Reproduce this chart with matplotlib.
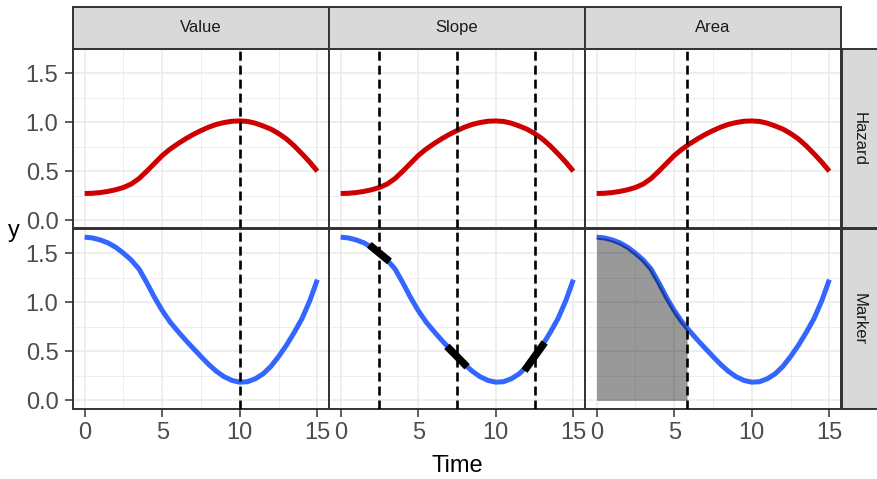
import matplotlib
matplotlib.use("Agg")
import matplotlib.pyplot as plt
import numpy as np

plt.rcParams['font.family'] = ['Liberation Sans', 'DejaVu Sans']

# ---- data ----
time = [0, 0.5, 1, 1.5, 2, 2.5, 3, 3.5, 4, 4.5, 5, 5.5, 6, 6.5, 7, 7.5, 8, 8.5,
        9, 9.5, 10, 10.5, 11, 11.5, 12, 12.5, 13, 13.5, 14, 14.5, 15]
hazard = [0.274, 0.276, 0.283, 0.295, 0.312, 0.335, 0.37, 0.425, 0.50, 0.58,
          0.66, 0.725, 0.78, 0.83, 0.875, 0.915, 0.95, 0.978, 0.997, 1.01,
          1.013, 1.008, 0.99, 0.962, 0.93, 0.885, 0.83, 0.76, 0.68, 0.595, 0.5]
marker = [1.663, 1.655, 1.635, 1.605, 1.56, 1.50, 1.43, 1.34, 1.20, 1.05,
          0.915, 0.80, 0.705, 0.615, 0.53, 0.446, 0.365, 0.295, 0.24, 0.203,
          0.185, 0.19, 0.22, 0.27, 0.345, 0.446, 0.56, 0.69, 0.83, 1.01, 1.23]

columns = ["Value", "Slope", "Area"]
rows = ["Hazard", "Marker"]

value_time = [10]
slope_times = [2.5, 7.5, 12.5]
slope_values = [1.50, 0.446, 0.446]
slopes = [-0.13, -0.16, 0.22]
slope_half_width = 0.65
area_time = [0, 0.5, 1, 1.5, 2, 2.5, 3, 3.5, 4, 4.5, 5, 5.5, 5.83]
area_marker = [1.663, 1.655, 1.635, 1.605, 1.56, 1.50, 1.43, 1.34, 1.20, 1.05,
               0.915, 0.80, 0.735]
area_cut = [5.83]

x_ticks = [0, 5, 10, 15]
y_ticks = [0.0, 0.5, 1.0, 1.5]
y_tick_labels = ["0.0", "0.5", "1.0", "1.5"]

# ---- layout ----
W, H = 877, 479
fig = plt.figure(figsize=(W / 100, H / 100), dpi=100)
fig.patch.set_facecolor("white")

left_px = 73
col_w = 256
row_tops = [49, 229]
row_h = 179.5
strip_top = 6.5
strip_right_w = 40

GRID = "#EBEBEB"
BORDER = "#333333"
STRIP_FILL = "#D9D9D9"
RED = "#CC0000"
BLUE = "#3366FF"

def px_rect(x0, y0, w, h):
    return [x0 / W, 1 - (y0 + h) / H, w / W, h / H]

dash_kw = dict(color="black", lw=1.9, dashes=(3.4, 1.9), zorder=5)

for r, row_name in enumerate(rows):
    for c, col_name in enumerate(columns):
        ax = fig.add_axes(px_rect(left_px + c * col_w, row_tops[r], col_w, row_h))
        ax.set_xlim(-0.75, 15.75)
        ax.set_ylim(-0.083, 1.746)
        ax.set_xticks(x_ticks)
        ax.set_xticks([2.5, 7.5, 12.5], minor=True)
        ax.set_yticks(y_ticks)
        ax.set_yticks([0.25, 0.75, 1.25], minor=True)
        ax.grid(True, which="major", color=GRID, lw=1.2, zorder=0)
        ax.grid(True, which="minor", color=GRID, lw=0.6, zorder=0)
        ax.set_axisbelow(True)
        for s in ax.spines.values():
            s.set_color(BORDER)
            s.set_linewidth(1.4)
        ax.tick_params(which="minor", length=0)
        ax.tick_params(which="major", length=5.5, width=1.1, color=BORDER,
                       labelsize=17, labelcolor="#4D4D4D")
        ax.tick_params(axis="y", pad=5)
        ax.tick_params(axis="x", pad=4)
        if r == 1:
            ax.set_xticklabels([str(t) for t in x_ticks])
        else:
            ax.tick_params(axis="x", length=0, labelbottom=False)
        if c == 0:
            ax.set_yticklabels(y_tick_labels)
        else:
            ax.tick_params(axis="y", length=0, labelleft=False)

        y = hazard if r == 0 else marker
        color = RED if r == 0 else BLUE
        ax.plot(time, y, color=color, lw=3.6, solid_capstyle="butt",
                solid_joinstyle="round", zorder=3)

        if col_name == "Value":
            for t in value_time:
                ax.axvline(t, **dash_kw)
        elif col_name == "Slope":
            for t in slope_times:
                ax.axvline(t, **dash_kw)
            if row_name == "Marker":
                for t, v, s in zip(slope_times, slope_values, slopes):
                    xs = [t - slope_half_width, t + slope_half_width]
                    ys = [v - s * slope_half_width, v + s * slope_half_width]
                    ax.plot(xs, ys, color="black", lw=5.4,
                            solid_capstyle="butt", zorder=4)
        else:
            for t in area_cut:
                ax.axvline(t, **dash_kw)
            if row_name == "Marker":
                ax.fill_between(area_time, 0, area_marker, color="black",
                                alpha=0.4, lw=0, zorder=4)

# top strips
for c, col_name in enumerate(columns):
    sax = fig.add_axes(px_rect(left_px + c * col_w, strip_top, col_w, row_tops[0] - strip_top))
    sax.set_facecolor(STRIP_FILL)
    sax.set_xticks([]); sax.set_yticks([])
    for s in sax.spines.values():
        s.set_color(BORDER); s.set_linewidth(1.4)
    sax.text(0.5, 0.5, col_name, ha="center", va="center", fontsize=12,
             color="#1A1A1A", transform=sax.transAxes)

# right strips
for r, row_name in enumerate(rows):
    sax = fig.add_axes(px_rect(left_px + 3 * col_w + 1, row_tops[r], strip_right_w, row_h))
    sax.set_facecolor(STRIP_FILL)
    sax.set_xticks([]); sax.set_yticks([])
    for s in sax.spines.values():
        s.set_color(BORDER); s.set_linewidth(1.4)
    sax.text(17 / strip_right_w, 0.5, row_name, ha="center", va="center",
             fontsize=12, color="#1A1A1A", rotation=-90, transform=sax.transAxes)

# axis titles
fig.text(457 / W, 1 - 466 / H, "Time", ha="center", va="center", fontsize=17, color="black")
fig.text(14 / W, 1 - 231 / H, "y", ha="center", va="center", fontsize=17, color="black")

fig.savefig("out.png", dpi=100)
